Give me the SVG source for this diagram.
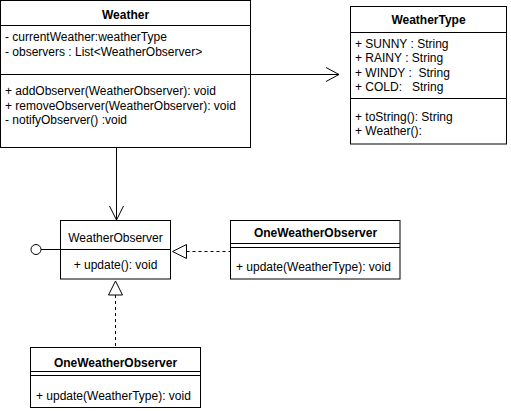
<svg xmlns="http://www.w3.org/2000/svg" width="511" height="411" viewBox="0 0 511 411">
  <style>
    .box { fill: #ffffff; stroke: #000000; stroke-width: 1; }
    .sep { stroke: #000000; stroke-width: 1; fill: none; }
    text { font-family: "Liberation Sans", Arial, Helvetica, sans-serif; font-size: 12px; fill: #000000; white-space: pre; }
    .title { font-weight: bold; text-anchor: middle; }
    .mid { text-anchor: middle; }
    .edge { stroke: #000000; stroke-width: 1; fill: none; }
    .dash { stroke-dasharray: 3 3; }
    .head { stroke: #000000; stroke-width: 1; fill: #ffffff; }
  </style>
  <rect width="511" height="411" fill="#ffffff"/>

  <!-- connectors -->
  <g id="connectors">
    <!-- Weather -> WeatherType association -->
    <line class="edge" x1="250.5" y1="74.5" x2="339" y2="74.5"/>
    <polyline class="edge" points="326,67.5 339,74.5 326,81.5"/>
    <!-- Weather -> WeatherObserver association -->
    <line class="edge" x1="116.5" y1="148" x2="116.5" y2="220"/>
    <polyline class="edge" points="109.5,206 116.5,220 123.5,206"/>
    <!-- provided interface lollipop -->
    <line class="edge" x1="41" y1="249.5" x2="60.5" y2="249.5"/>
    <circle class="edge" cx="36" cy="249.5" r="5"/>
    <!-- OneWeatherObserver (right) realizes WeatherObserver -->
    <line class="edge dash" x1="186.5" y1="251.5" x2="230.5" y2="251.5"/>
    <polygon class="head" points="172.5,251.5 186.5,244.5 186.5,258.5"/>
    <!-- OneWeatherObserver (bottom) realizes WeatherObserver -->
    <line class="edge dash" x1="115.5" y1="295" x2="115.5" y2="347.5"/>
    <polygon class="head" points="115.5,281 108.5,295 122.5,295"/>
  </g>

  <!-- Weather class -->
  <g id="weather">
    <rect class="box" x="0.5" y="0.5" width="250" height="147"/>
    <line class="sep" x1="0.5" y1="25.5" x2="250.5" y2="25.5"/>
    <line class="sep" x1="0.5" y1="74.5" x2="250.5" y2="74.5"/>
    <text class="title" x="125.5" y="19">Weather</text>
    <text x="5" y="41">- currentWeather:weatherType</text>
    <text x="5" y="55.5">- observers : List&lt;WeatherObserver&gt;</text>
    <text x="5" y="95">+ addObserver(WeatherObserver): void</text>
    <text x="5" y="109.5">+ removeObserver(WeatherObserver): void</text>
    <text x="5" y="124">- notifyObserver() :void</text>
  </g>

  <!-- WeatherType class -->
  <g id="weathertype">
    <rect class="box" x="350.5" y="6.5" width="156" height="137.5"/>
    <line class="sep" x1="350.5" y1="32.5" x2="506.5" y2="32.5"/>
    <line class="sep" x1="350.5" y1="98.5" x2="506.5" y2="98.5"/>
    <text class="title" x="428.5" y="23.5">WeatherType</text>
    <text x="355" y="47.5">+ SUNNY : String</text>
    <text x="355" y="62">+ RAINY : String</text>
    <text x="355" y="76.5">+ WINDY :  String</text>
    <text x="355" y="91">+ COLD:   String</text>
    <text x="355" y="120.5">+ toString(): String</text>
    <text x="355" y="135">+ Weather():</text>
  </g>

  <!-- WeatherObserver interface -->
  <g id="weatherobserver">
    <rect class="box" x="60.5" y="220.5" width="110" height="58.5"/>
    <line class="sep" x1="60.5" y1="249.5" x2="170.5" y2="249.5"/>
    <text class="mid" x="115.5" y="241.5">WeatherObserver</text>
    <text class="mid" x="115.5" y="269">+ update(): void</text>
  </g>

  <!-- OneWeatherObserver (right) -->
  <g id="oneweatherobserver-right">
    <rect class="box" x="230.5" y="220.5" width="169.5" height="58.5"/>
    <line class="sep" x1="230.5" y1="243.5" x2="400" y2="243.5"/>
    <line class="sep" x1="230.5" y1="247.5" x2="400" y2="247.5"/>
    <text class="title" x="315.5" y="237">OneWeatherObserver</text>
    <text x="236" y="271">+ update(WeatherType): void</text>
  </g>

  <!-- OneWeatherObserver (bottom) -->
  <g id="oneweatherobserver-bottom">
    <rect class="box" x="30.5" y="347.5" width="170" height="60"/>
    <line class="sep" x1="30.5" y1="371.5" x2="200.5" y2="371.5"/>
    <line class="sep" x1="30.5" y1="375.5" x2="200.5" y2="375.5"/>
    <text class="title" x="115.5" y="366.5">OneWeatherObserver</text>
    <text x="36" y="399.5">+ update(WeatherType): void</text>
  </g>
</svg>
